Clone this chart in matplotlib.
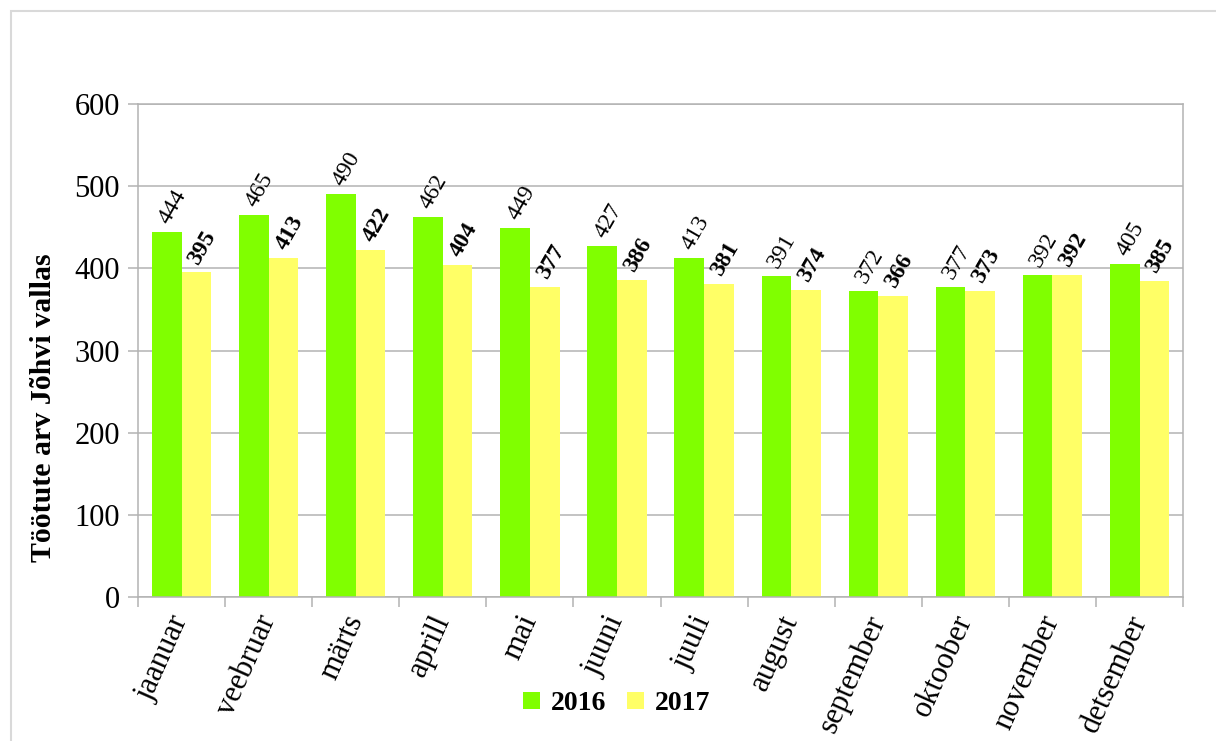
import numpy as np
import matplotlib.pyplot as plt
from matplotlib.patches import Rectangle

months = ['jaanuar', 'veebruar', 'märts', 'aprill', 'mai', 'juuni',
          'juuli', 'august', 'september', 'oktoober', 'november', 'detsember']
v2016 = [444, 465, 490, 462, 449, 427, 413, 391, 372, 377, 392, 405]
v2017 = [395, 413, 422, 404, 377, 386, 381, 374, 366, 373, 392, 385]

plt.rcParams['font.family'] = ['Liberation Serif', 'DejaVu Serif']

fig = plt.figure(figsize=(12.16, 7.41), dpi=100)
ax = fig.add_axes([0.1135, 0.1943, 0.8594, 0.6653])

grid_c = '#b3b3b3'
x = np.arange(len(months))
w = 0.34
b1 = ax.bar(x - w / 2, v2016, w, color='#80ff00', label='2016', zorder=2)
b2 = ax.bar(x + w / 2, v2017, w, color='#ffff66', label='2017', zorder=2)

# värtused tulpade kohal
for xi, v in zip(x, v2016):
    ax.annotate(str(v), (xi - w / 2, v), xytext=(-2, 7), textcoords='offset points',
                rotation=60, rotation_mode='anchor', ha='left', va='center', fontsize=17)
for xi, v in zip(x, v2017):
    ax.annotate(str(v), (xi + w / 2, v), xytext=(-2, 7), textcoords='offset points',
                rotation=60, rotation_mode='anchor', ha='left', va='center',
                fontsize=17, fontweight='bold')

ax.set_xlim(-0.5, len(months) - 0.5)
ax.set_ylim(0, 600)
ax.set_yticks(range(0, 601, 100))
ax.yaxis.grid(True, color=grid_c, linewidth=1.1, zorder=0)
ax.set_axisbelow(True)

ax.set_xticks(x)
ax.set_xticklabels(months, rotation=66, rotation_mode='anchor', ha='right', va='center',
                   fontsize=22)
ax.tick_params(axis='x', length=0, pad=14)
ax.set_xticks(np.arange(-0.5, len(months), 1), minor=True)
ax.tick_params(axis='x', which='minor', length=7, color=grid_c, width=1.1)
ax.tick_params(axis='y', length=7, color=grid_c, width=1.1, labelsize=22, pad=6)

for s in ax.spines.values():
    s.set_color(grid_c)
    s.set_linewidth(1.1)

ax.set_ylabel('Töötute arv Jõhvi vallas', fontsize=21.5, fontweight='bold')
ax.yaxis.set_label_coords(-0.078, 0.385)

fig.legend(handles=[b1, b2], loc='center', bbox_to_anchor=(0.507, 0.05), ncol=2,
           frameon=False, prop={'size': 20, 'weight': 'bold'},
           handlelength=0.6, handleheight=0.6, handletextpad=0.4, columnspacing=0.75)

fig.patches.append(Rectangle((0.009, -0.1), 1.1, 1.1 - 0.015, transform=fig.transFigure,
                             fill=False, edgecolor='#d9d9d9', linewidth=1.5))

fig.savefig('out.png', dpi=100)
